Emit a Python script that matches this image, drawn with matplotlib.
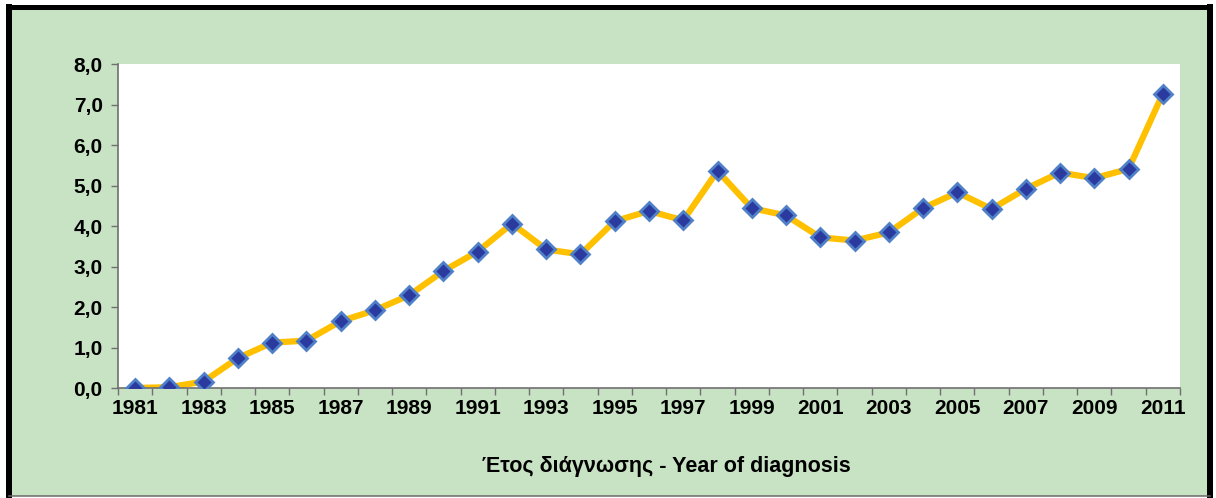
import numpy as np
import matplotlib.pyplot as plt
from matplotlib.lines import Line2D

plt.rcParams['font.family'] = ['Liberation Sans', 'DejaVu Sans']

years = list(range(1981, 2012))
rates = [0.00, 0.02, 0.16, 0.74, 1.12, 1.17, 1.65, 1.92, 2.29, 2.89,
         3.37, 4.06, 3.42, 3.30, 4.12, 4.37, 4.14, 5.36, 4.44, 4.26,
         3.72, 3.64, 3.84, 4.44, 4.83, 4.42, 4.92, 5.32, 5.18, 5.41, 7.27]
yticks = [0, 1, 2, 3, 4, 5, 6, 7, 8]
xlabel = "Έτος διάγνωσης - Year of diagnosis"

green = "#C8E3C3"
W, H = 1216, 498
fig = plt.figure(figsize=(W / 100, H / 100), dpi=100)
fig.patch.set_facecolor("white")

# green panel with a black frame (thick sides, thin grey bottom)
L, R, T, B = 9, 1210, 7.5, 496
panel = plt.Rectangle((L / W, 1 - B / H), (R - L) / W, (B - T) / H, transform=fig.transFigure,
                      facecolor=green, edgecolor="none", zorder=0)
fig.patches.append(panel)
px = 0.72  # points per pixel at dpi 100
for xs, ys, lw, col in [([L, L], [T, B], 6 * px, "black"),
                        ([R, R], [T, B], 6 * px, "black"),
                        ([L, R], [T, T], 5 * px, "black"),
                        ([L, R], [B, B], 1.5 * px, "#666666")]:
    fig.lines.append(Line2D([v / W for v in xs], [1 - v / H for v in ys],
                            transform=fig.transFigure, color=col, linewidth=lw,
                            solid_capstyle="projecting"))

ax = fig.add_axes([118 / W, 1 - 388 / H, (1180 - 118) / W, (388 - 64) / H])
ax.set_zorder(2)
ax.set_facecolor("white")

x = np.arange(len(years))
ax.plot(x, rates, color="#FFC000", linewidth=4.5, zorder=2)
ax.plot(x, rates, linestyle="none", marker="D", markersize=9,
        markerfacecolor="#2B3A9E", markeredgecolor="#4F80C8", markeredgewidth=2, zorder=3)

ax.set_xlim(-0.5, len(years) - 0.5)
ax.set_ylim(0, 8)

# category axis: tick marks between categories, labels on every other year
ax.set_xticks(np.arange(-0.5, len(years), 1.0))
ax.set_xticklabels([])
ax.set_xticks(x[::2], minor=True)
ax.set_xticklabels([str(y) for y in years[::2]], minor=True)
ax.tick_params(axis="x", which="major", direction="out", length=5, color="#707070", width=1)
ax.tick_params(axis="x", which="minor", length=0, pad=8, labelsize=15)

ax.set_yticks(yticks)
ax.set_yticklabels([f"{v:.1f}".replace(".", ",") for v in yticks])
ax.tick_params(axis="y", direction="out", length=5, color="#707070", width=1, pad=6, labelsize=15)

for lab in ax.get_xticklabels(minor=True) + ax.get_yticklabels():
    lab.set_fontweight("bold")

for s in ["top", "right"]:
    ax.spines[s].set_visible(False)
for s in ["left", "bottom"]:
    ax.spines[s].set_color("#707070")
    ax.spines[s].set_linewidth(1.2)

fig.text(666 / W, 1 - 466 / H, xlabel, ha="center", va="center",
         fontsize=15.5, fontweight="bold")

fig.savefig("out.png", dpi=100, facecolor=fig.get_facecolor())
